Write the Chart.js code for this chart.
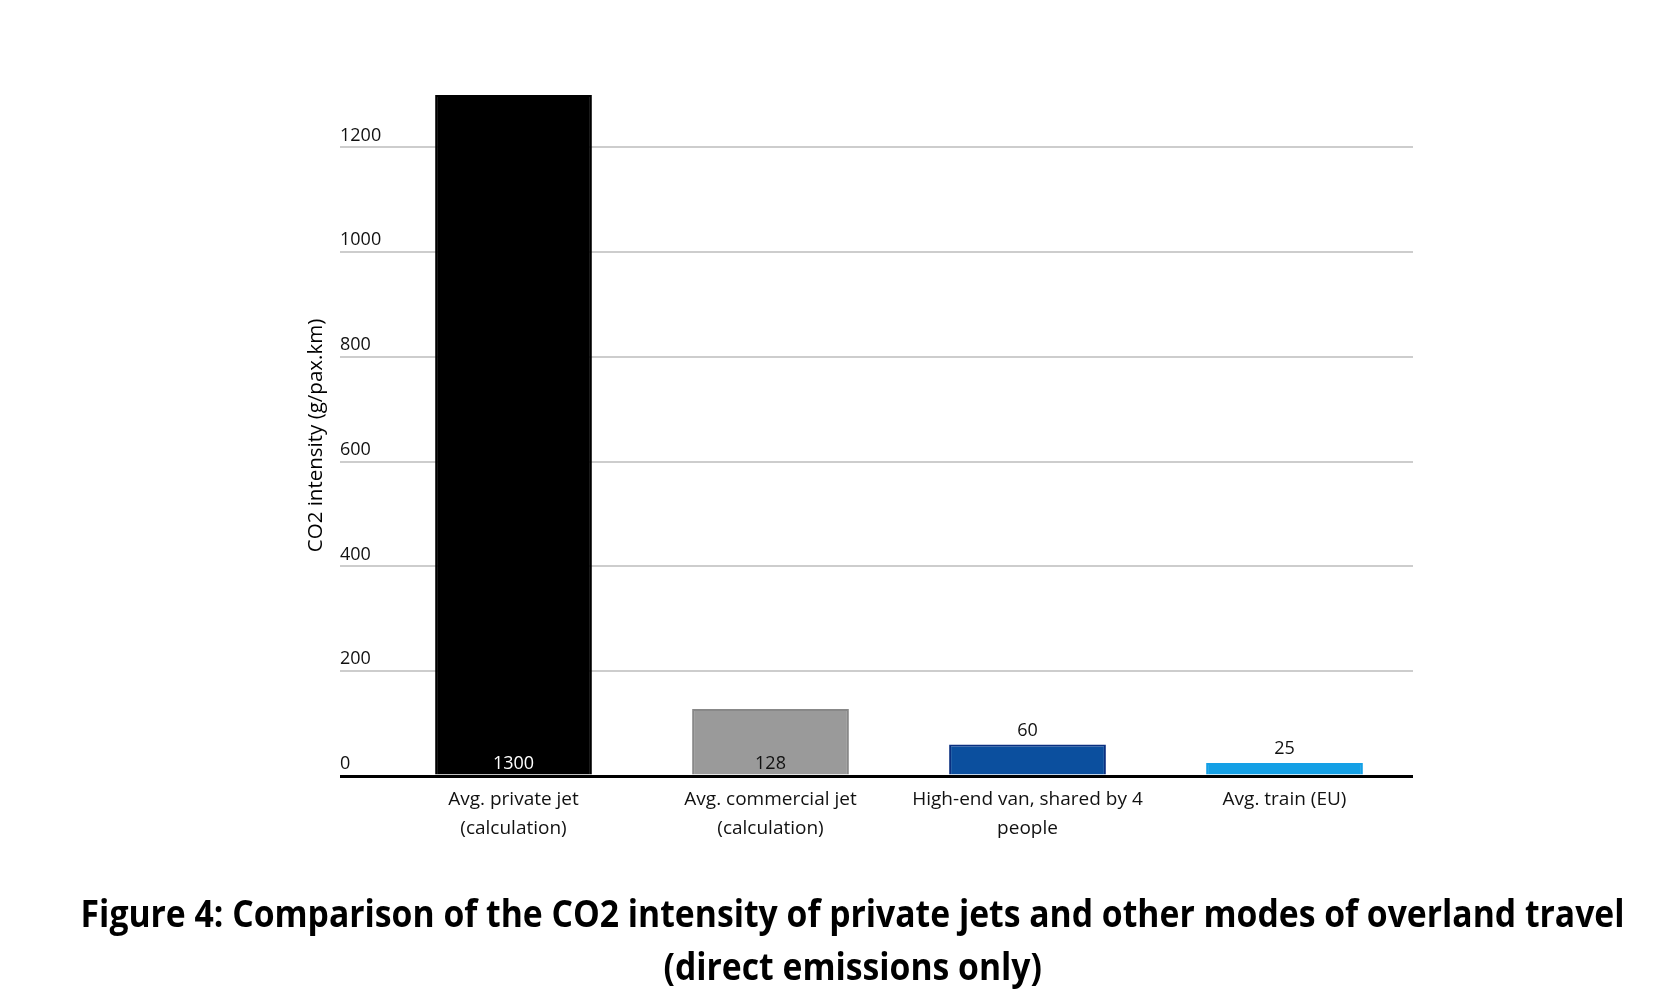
<!DOCTYPE html>
<html>
<head>
<meta charset="utf-8">
<script src="https://cdn.jsdelivr.net/npm/chart.js@4.4.1/dist/chart.umd.min.js"></script>
<style>
  html, body { margin: 0; padding: 0; background: #fff; overflow: hidden; }
  #wrap { position: relative; width: 1664px; height: 1006px; overflow: hidden; }
  #co2-chart { display: block; }
  #figure-title {
    position: absolute; left: -647px; width: 3000px; top: 886px;
    text-align: center; color: #000;
    font-family: "Open Sans", "DejaVu Sans Condensed", sans-serif;
    font-weight: bold; font-size: 37px; line-height: 53px; white-space: nowrap;
  }
  #figure-title span { display: inline-block; transform-origin: 50% 50%; }
</style>
</head>
<body>
<div id="wrap">
  <canvas id="co2-chart" width="1664" height="1006"></canvas>
  <div id="figure-title"><span id="title-line1">Figure 4: Comparison of the CO2 intensity of private jets and other modes of overland travel</span><br><span id="title-line2">(direct emissions only)</span></div>
</div>
<script>
// --- DATA ---
const categories = [
    ['Avg. private jet', '(calculation)'],
    ['Avg. commercial jet', '(calculation)'],
    ['High-end van, shared by 4', 'people'],
    ['Avg. train (EU)']
];
const co2Values = [1300, 128, 60, 25];
const yTickValues = [0, 200, 400, 600, 800, 1000, 1200];
const yAxisTitle = 'CO2 intensity (g/pax.km)';

// --- TITLE: squeeze to the condensed look of the original ---
const line1 = document.getElementById('title-line1');
const line2 = document.getElementById('title-line2');
const w = line1.getBoundingClientRect().width;
if (w > 0) {
    const sx = (1544 / w).toFixed(4);
    line1.style.transform = `scaleX(${sx})`;
    line2.style.transform = `scaleX(${sx})`;
}

// --- VALUE LABELS (big bars: at the base, small bars: above) ---
const valueLabels = {
    id: 'valueLabels',
    afterDatasetsDraw(chart) {
        const { ctx } = chart;
        const meta = chart.getDatasetMeta(0);
        ctx.save();
        ctx.font = '18px "Open Sans"';
        ctx.textAlign = 'center';
        ctx.textBaseline = 'middle';
        meta.data.forEach((bar, i) => {
            const v = co2Values[i];
            const atBase = v >= 100;
            ctx.fillStyle = i === 0 ? '#ffffff' : '#111111';
            ctx.fillText(String(v), bar.x, atBase ? bar.base - 11 : bar.y - 14);
        });
        ctx.restore();
    }
};

Chart.defaults.font.family = '"Open Sans"';

const isZero = c => c.tick && c.tick.value === 0;

new Chart(document.getElementById('co2-chart').getContext('2d'), {
    type: 'bar',
    data: {
        labels: categories,
        datasets: [{
            data: co2Values,
            backgroundColor: ['#000000', '#9a9a9a', '#0b4f9e', '#14a0e6'],
            borderColor: ['#000000', '#888888', '#0a2f80', '#14a0e6'],
            borderWidth: 2,
            barPercentage: 0.61,
            categoryPercentage: 1
        }]
    },
    options: {
        responsive: false,
        animation: false,
        layout: { padding: { left: 301, right: 251, top: 95, bottom: 165 } },
        plugins: { legend: { display: false }, tooltip: { enabled: false } },
        scales: {
            x: {
                afterFit: s => { s.height = 65; },
                grid: { display: false },
                border: { display: false },
                ticks: {
                    padding: 1, color: '#111', maxRotation: 0, autoSkip: false,
                    font: { size: 19, lineHeight: '29px' }
                }
            },
            y: {
                min: 0,
                max: 1300,
                afterBuildTicks: s => { s.ticks = yTickValues.map(v => ({ value: v })); },
                afterFit: s => { s.width = 84; },
                border: { display: false },
                grid: {
                    color: c => isZero(c) ? '#000000' : '#cdcdcd',
                    lineWidth: c => isZero(c) ? 3 : 2,
                    drawTicks: true,
                    tickLength: 45
                },
                ticks: {
                    mirror: true, padding: -45, labelOffset: -12, color: '#111',
                    font: { size: 18 },
                    callback: v => String(v)
                },
                title: {
                    display: true, text: yAxisTitle, color: '#000',
                    font: { size: 20.5 },
                    padding: { top: 3, bottom: 11 }
                }
            }
        }
    },
    plugins: [valueLabels]
});
</script>
</body>
</html>
